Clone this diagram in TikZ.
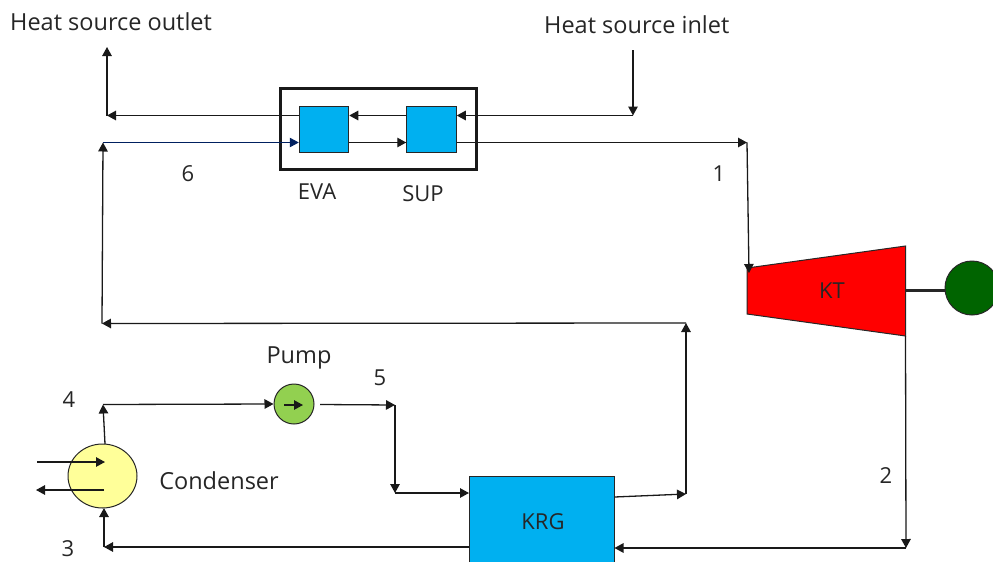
\documentclass[tikz,border=0pt]{standalone}
\usepackage{fontspec}
\setmainfont{Open Sans}
\usetikzlibrary{arrows.meta,shapes.geometric}
\definecolor{boxblue}{HTML}{00B0F0}
\definecolor{pumpgreen}{HTML}{92D050}
\definecolor{condyellow}{HTML}{FFFF99}
\definecolor{gengreen}{HTML}{006400}
\definecolor{navyline}{HTML}{002060}
\tikzset{
  flow/.style={draw=black!90,line width=1.3pt,-{Triangle[length=9pt,width=9.5pt]}},
  plain/.style={draw=black!85,line width=1.25pt},
  hx/.style={draw=black!85,line width=1pt,fill=boxblue,minimum width=49.5pt,minimum height=46pt,inner sep=0pt},
  lbl/.style={font=\fontsize{23.5pt}{26pt}\selectfont,text=black!85,inner sep=0pt},
  lblsm/.style={font=\fontsize{22pt}{26pt}\selectfont,text=black!85,inner sep=0pt},
}
\begin{document}
\begin{tikzpicture}[x=1pt,y=-1pt]
\useasboundingbox (0,0) rectangle (993,562);
\clip (0,0) rectangle (993,562);
\fill[white] (0,0) rectangle (993,562);
% outer heat exchanger frame
\node[draw=black!90,line width=3pt,minimum width=196pt,minimum height=81pt,inner sep=0pt] (frame) at (378,128.5) {};
% components
\node[hx] (eva) at (324,129) {};
\node[hx] (sup) at (431.5,129) {};
\node[draw=black!85,line width=1pt,fill=boxblue,minimum width=144.5pt,minimum height=120pt,inner sep=0pt,anchor=north west] (krg) at (469,476) {};
\node[draw=black!85,line width=1pt,fill=condyellow,ellipse,minimum width=69pt,minimum height=64pt,inner sep=0pt] (cond) at (102.5,476) {};
\node[draw=black!85,line width=1pt,fill=pumpgreen,circle,minimum size=40pt,inner sep=0pt] (pump) at (294,404) {};
\coordinate (ktA) at (747,268);
\coordinate (ktB) at (905.5,246);
\coordinate (ktC) at (905.5,336);
\coordinate (ktD) at (747,314);
\coordinate (ktS) at (905.5,290.5);
\filldraw[draw=black!85,line width=1pt,fill=red] (ktA) -- (ktB) -- (ktC) -- (ktD) -- cycle;
\node[draw=black!85,line width=1pt,fill=gengreen,circle,minimum size=54pt,inner sep=0pt] (gen) at (972,288) {};
% junctions
\coordinate (inTop) at (633,50);
\coordinate (inJ) at (633,115.5);
\coordinate (outJ) at (107,115.5);
\coordinate (outTop) at (107,47);
\coordinate (six) at (103,142.5);
\coordinate (retC) at (102,323.5);
\coordinate (retR) at (686,323);
\coordinate (krgOut) at (614,497);
\coordinate (krgOutJ) at (686,494);
\coordinate (oneJ) at (747,142.5);
\coordinate (ktIn) at (749,273);
\coordinate (twoJ) at (906,548);
\coordinate (threeJ) at (104,547);
\coordinate (condBot) at (104,508);
\coordinate (condTop) at (105,444);
\coordinate (fourJ) at (103,404.5);
\coordinate (pOut) at (320,404.5);
\coordinate (fiveJ) at (395,405);
\coordinate (krgInJ) at (395,493);
\coordinate (cwA) at (37,462);
\coordinate (cwB) at (105,462);
\coordinate (cwC) at (104,490);
\coordinate (cwD) at (36,490);
\coordinate (pA) at (284,405);
\coordinate (pB) at (303,405);
% heat-source path
\draw[flow] (inTop) -- (inJ);
\draw[flow] (inJ) -- (sup.east |- inJ);
\draw[flow] (sup.west |- inJ) -- (eva.east |- inJ);
\draw[flow] (eva.west |- inJ) -- (outJ);
\draw[flow] (outJ) -- (outTop);
% working fluid
\draw[flow,draw=navyline,line width=1pt] (six) -- (eva.west |- six);
\draw[flow] (eva.east |- six) -- (sup.west |- six);
\draw[flow] (sup.east |- six) -- (oneJ);
\draw[flow] (oneJ) -- (ktIn);
\draw[flow] (ktC) -- (twoJ);
\draw[flow] (twoJ) -- (krg.east |- twoJ);
\draw[flow] (krg.west |- threeJ) -- (threeJ);
\draw[flow] (threeJ) -- (condBot);
\draw[flow] (condTop) -- (fourJ);
\draw[flow] (fourJ) -- (pump.west);
\draw[flow] (pOut) -- (fiveJ);
\draw[flow] (fiveJ) -- (krgInJ);
\draw[flow] (krgInJ) -- (krg.west |- krgInJ);
\draw[flow] (krg.east |- krgOut) -- (krgOutJ);
\draw[flow] (krgOutJ) -- (retR);
\draw[flow] (retR) -- (retC);
\draw[flow] (retC) -- (six);
\draw[flow] (cwA) -- (cwB);
\draw[flow] (cwC) -- (cwD);
\draw[flow] (pA) -- (pB);
\draw[plain,line width=3pt] (ktS) -- (gen.west |- ktS);
% labels
\node[lbl,anchor=west] (tOut) at (10,22) {Heat source outlet};
\node[lbl,anchor=west] (tIn) at (544,24.5) {Heat source inlet};
\node[lblsm] (t6) at (188,174) {6};
\node[lblsm] (tEva) at (317,192) {EVA};
\node[lblsm] (tSup) at (423,194) {SUP};
\node[lblsm] (t1) at (719,174) {1};
\node[lblsm] (t2) at (886,476) {2};
\node[lblsm] (tKt) at (832,291) {KT};
\node[lbl] (tPump) at (299,358) {Pump};
\node[lblsm] (t5) at (380,378) {5};
\node[lblsm] (t4) at (69,400) {4};
\node[lbl] (tCond) at (219,481) {Condenser};
\node[lblsm] (tKrg) at (543,522) {KRG};
\node[lblsm] (t3) at (68,549) {3};
\end{tikzpicture}
\end{document}
